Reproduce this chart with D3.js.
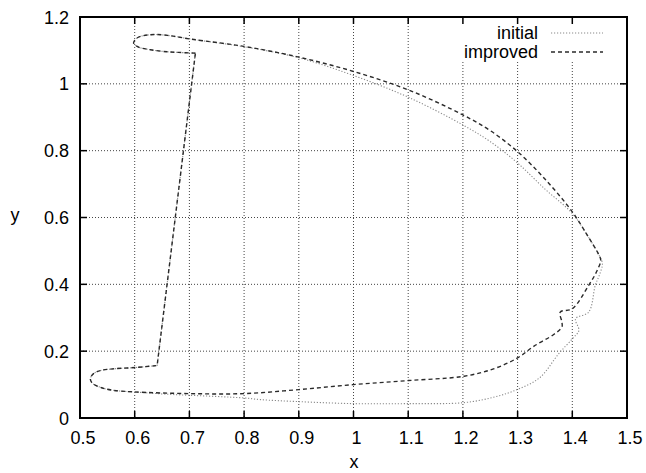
<!DOCTYPE html>
<html>
<head>
<meta charset="utf-8">
<script src="https://cdn.jsdelivr.net/npm/d3@7"></script>
<style>
  body { margin: 0; background: #fff; }
  svg { display: block; }
  text { font-family: "Liberation Sans", Arial, sans-serif; fill: #000; }
</style>
</head>
<body>
<div id="chart"></div>
<script>
// tick values for both axes
var xTicks = [0.5, 0.6, 0.7, 0.8, 0.9, 1, 1.1, 1.2, 1.3, 1.4, 1.5];
var yTicks = [0, 0.2, 0.4, 0.6, 0.8, 1, 1.2];

// "improved" run; the smooth part ends at the lower corner, a straight edge closes it
var improved = [
  [0.711, 1.092], [0.680, 1.094], [0.659, 1.096], [0.629, 1.102], [0.607, 1.110],
  [0.598, 1.122], [0.605, 1.138], [0.629, 1.147], [0.660, 1.145], [0.702, 1.134],
  [0.800, 1.112], [0.900, 1.080], [1.000, 1.037], [1.100, 0.982], [1.200, 0.907],
  [1.250, 0.860], [1.300, 0.797], [1.350, 0.715], [1.400, 0.617], [1.430, 0.540],
  [1.448, 0.490], [1.452, 0.472], [1.445, 0.440], [1.430, 0.397], [1.400, 0.327],
  [1.378, 0.317], [1.381, 0.287], [1.381, 0.272], [1.366, 0.250], [1.330, 0.215],
  [1.300, 0.180], [1.256, 0.147], [1.202, 0.125], [1.100, 0.112], [1.000, 0.100],
  [0.900, 0.085], [0.800, 0.073], [0.700, 0.073], [0.600, 0.078], [0.560, 0.083],
  [0.537, 0.092], [0.522, 0.105], [0.519, 0.118], [0.525, 0.133], [0.537, 0.142],
  [0.560, 0.147], [0.601, 0.151], [0.641, 0.157]
];

// "initial" run, same layout
var initial = [
  [0.711, 1.092], [0.680, 1.094], [0.659, 1.096], [0.629, 1.102], [0.607, 1.110],
  [0.598, 1.122], [0.605, 1.138], [0.629, 1.147], [0.660, 1.145], [0.702, 1.134],
  [0.800, 1.111], [0.900, 1.078], [1.000, 1.025], [1.100, 0.960], [1.200, 0.877],
  [1.250, 0.827], [1.300, 0.763], [1.350, 0.685], [1.400, 0.612], [1.430, 0.540],
  [1.448, 0.490], [1.455, 0.462], [1.450, 0.430], [1.442, 0.397],
  [1.430, 0.317], [1.406, 0.297], [1.412, 0.262], [1.400, 0.237], [1.375, 0.192],
  [1.340, 0.120], [1.299, 0.085], [1.256, 0.062], [1.202, 0.046], [1.100, 0.043],
  [1.000, 0.043], [0.900, 0.049], [0.830, 0.055], [0.800, 0.060], [0.700, 0.068],
  [0.650, 0.072], [0.600, 0.078], [0.560, 0.083], [0.537, 0.092], [0.522, 0.105],
  [0.519, 0.118], [0.525, 0.133], [0.537, 0.142], [0.560, 0.147], [0.601, 0.151],
  [0.641, 0.157]
];

var seriesNames = ["initial", "improved"];

var width = 646, height = 473;
var margin = { top: 17, right: 19, bottom: 55, left: 80 };
var w = width - margin.left - margin.right;
var h = height - margin.top - margin.bottom;

var svg = d3.select("#chart").append("svg")
  .attr("width", width)
  .attr("height", height);

var g = svg.append("g")
  .attr("transform", "translate(" + margin.left + "," + margin.top + ")");

var x = d3.scaleLinear().domain([0.5, 1.5]).range([0, w]);
var y = d3.scaleLinear().domain([0, 1.2]).range([h, 0]);

//dotted grid
g.append("g").selectAll("line")
  .data(xTicks.slice(1, -1))
  .enter().append("line")
  .attr("x1", function(d) { return x(d); })
  .attr("x2", function(d) { return x(d); })
  .attr("y1", 0).attr("y2", h)
  .attr("stroke", "#444").attr("stroke-width", 1)
  .attr("stroke-dasharray", "1,2");

g.append("g").selectAll("line")
  .data(yTicks.slice(1, -1))
  .enter().append("line")
  .attr("y1", function(d) { return y(d); })
  .attr("y2", function(d) { return y(d); })
  .attr("x1", 0).attr("x2", w)
  .attr("stroke", "#444").attr("stroke-width", 1)
  .attr("stroke-dasharray", "1,2");

// legend box blanks the grid behind it
g.append("rect")
  .attr("x", 375).attr("y", 0)
  .attr("width", w - 375 - 6).attr("height", 45)
  .attr("fill", "#fff");

var line = d3.line()
  .x(function(d) { return x(d[0]); })
  .y(function(d) { return y(d[1]); })
  .curve(d3.curveCatmullRom.alpha(0.5));

// smooth curve, then a straight edge back to the first point
function closedPath(pts) {
  return line(pts) + "L" + x(pts[0][0]) + "," + y(pts[0][1]);
}

var styles = {
  initial: { stroke: "#8a8a8a", dash: "1.2,1.8", width: 1.1 },
  improved: { stroke: "#2a2a2a", dash: "4,3", width: 1.4 }
};

g.append("path")
  .datum(initial)
  .attr("d", closedPath)
  .attr("fill", "none")
  .attr("stroke", styles.initial.stroke)
  .attr("stroke-width", styles.initial.width)
  .attr("stroke-dasharray", styles.initial.dash);

g.append("path")
  .datum(improved)
  .attr("d", closedPath)
  .attr("fill", "none")
  .attr("stroke", styles.improved.stroke)
  .attr("stroke-width", styles.improved.width)
  .attr("stroke-dasharray", styles.improved.dash);

//frame
g.append("rect")
  .attr("x", 0).attr("y", 0)
  .attr("width", w).attr("height", h)
  .attr("fill", "none")
  .attr("stroke", "#000").attr("stroke-width", 2);

// inward ticks on all four sides
var tl = 7;
xTicks.slice(1, -1).forEach(function(d) {
  g.append("line").attr("x1", x(d)).attr("x2", x(d)).attr("y1", h).attr("y2", h - tl)
    .attr("stroke", "#000").attr("stroke-width", 1.5);
  g.append("line").attr("x1", x(d)).attr("x2", x(d)).attr("y1", 0).attr("y2", tl)
    .attr("stroke", "#000").attr("stroke-width", 1.5);
});
yTicks.slice(1, -1).forEach(function(d) {
  g.append("line").attr("y1", y(d)).attr("y2", y(d)).attr("x1", 0).attr("x2", tl)
    .attr("stroke", "#000").attr("stroke-width", 1.5);
  g.append("line").attr("y1", y(d)).attr("y2", y(d)).attr("x1", w).attr("x2", w - tl)
    .attr("stroke", "#000").attr("stroke-width", 1.5);
});

//tick labels
g.append("g").selectAll("text")
  .data(xTicks)
  .enter().append("text")
  .attr("x", function(d) { return x(d) + 3; })
  .attr("y", h + 26)
  .attr("text-anchor", "middle")
  .style("font-size", "18px")
  .text(function(d) { return d3.format("")(d); });

g.append("g").selectAll("text")
  .data(yTicks)
  .enter().append("text")
  .attr("x", -11)
  .attr("y", function(d) { return y(d) + 6.5; })
  .attr("text-anchor", "end")
  .style("font-size", "18px")
  .text(function(d) { return d3.format("")(d); });

//axis titles
svg.append("text")
  .attr("x", 354).attr("y", 468)
  .attr("text-anchor", "middle")
  .style("font-size", "18px")
  .text("x");

svg.append("text")
  .attr("x", 15).attr("y", 221)
  .attr("text-anchor", "middle")
  .style("font-size", "18px")
  .text("y");

//legend
seriesNames.forEach(function(name, i) {
  var ly = 16 + i * 19;
  g.append("text")
    .attr("x", 458).attr("y", ly + 6)
    .attr("text-anchor", "end")
    .style("font-size", "18px")
    .text(name);
  g.append("line")
    .attr("x1", 471).attr("x2", 523)
    .attr("y1", ly).attr("y2", ly)
    .attr("stroke", styles[name].stroke)
    .attr("stroke-width", styles[name].width)
    .attr("stroke-dasharray", styles[name].dash);
});
</script>
</body>
</html>
